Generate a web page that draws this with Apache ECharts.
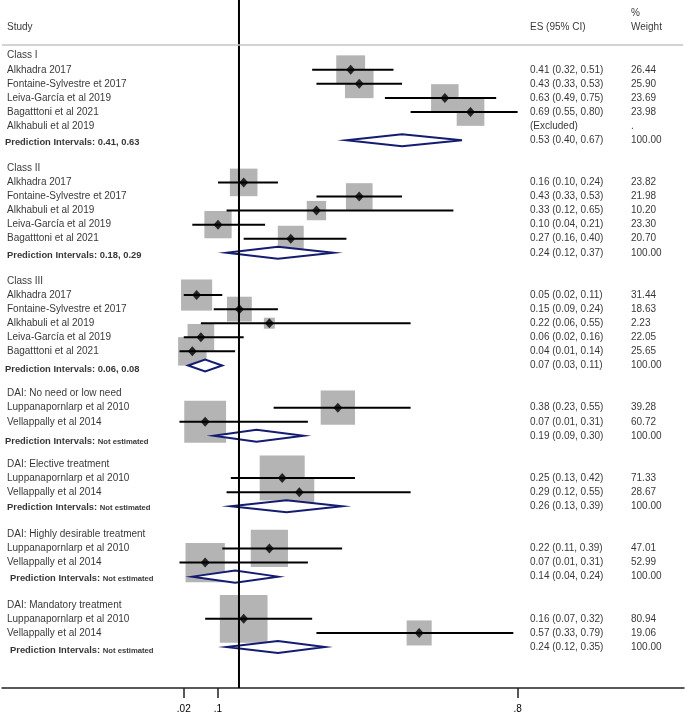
<!DOCTYPE html>
<html>
<head>
<meta charset="utf-8">
<script src="https://cdn.jsdelivr.net/npm/echarts@6/dist/echarts.min.js"></script>
<style>
  html, body { margin: 0; padding: 0; background: #fff; }
  #chart { width: 685px; height: 714px; }
</style>
</head>
<body>
<div id="chart"></div>
<script>
// ---------------- DATA ----------------
const groupNames = ['Class I', 'Class II', 'Class III', 'DAI: No need or low need',
  'DAI: Elective treatment', 'DAI: Highly desirable treatment', 'DAI: Mandatory treatment'];
const groupSizes = [5, 5, 5, 2, 2, 2, 2];
const studyNames = [
  'Alkhadra 2017', 'Fontaine-Sylvestre et 2017', 'Leiva-García et al 2019', 'Bagatttoni et al 2021', 'Alkhabuli et al 2019',
  'Alkhadra 2017', 'Fontaine-Sylvestre et 2017', 'Alkhabuli et al 2019', 'Leiva-García et al 2019', 'Bagatttoni et al 2021',
  'Alkhadra 2017', 'Fontaine-Sylvestre et 2017', 'Alkhabuli et al 2019', 'Leiva-García et al 2019', 'Bagatttoni et al 2021',
  'Luppanapornlarp et al 2010', 'Vellappally et al 2014',
  'Luppanapornlarp et al 2010', 'Vellappally et al 2014',
  'Luppanapornlarp et al 2010', 'Vellappally et al 2014',
  'Luppanapornlarp et al 2010', 'Vellappally et al 2014'
];
const esVals = [0.41, 0.43, 0.63, 0.69, null, 0.16, 0.43, 0.33, 0.10, 0.27, 0.05, 0.15, 0.22, 0.06, 0.04,
  0.38, 0.07, 0.25, 0.29, 0.22, 0.07, 0.16, 0.57];
const loVals = [0.32, 0.33, 0.49, 0.55, null, 0.10, 0.33, 0.12, 0.04, 0.16, 0.02, 0.09, 0.06, 0.02, 0.01,
  0.23, 0.01, 0.13, 0.12, 0.11, 0.01, 0.07, 0.33];
const hiVals = [0.51, 0.53, 0.75, 0.80, null, 0.24, 0.53, 0.65, 0.21, 0.40, 0.11, 0.24, 0.55, 0.16, 0.14,
  0.55, 0.31, 0.42, 0.55, 0.39, 0.31, 0.32, 0.79];
const weights = [26.44, 25.90, 23.69, 23.98, null, 23.82, 21.98, 10.20, 23.30, 20.70, 31.44, 18.63, 2.23, 22.05, 25.65,
  39.28, 60.72, 71.33, 28.67, 47.01, 52.99, 80.94, 19.06];
const pooledES = [0.53, 0.24, 0.07, 0.19, 0.26, 0.14, 0.24];
const pooledLo = [0.40, 0.12, 0.03, 0.09, 0.13, 0.04, 0.12];
const pooledHi = [0.67, 0.37, 0.11, 0.30, 0.39, 0.24, 0.35];
const pooledWeight = [100, 100, 100, 100, 100, 100, 100];
const predIntervals = ['0.41, 0.63', '0.18, 0.29', '0.06, 0.08', 'Not estimated', 'Not estimated', 'Not estimated', 'Not estimated'];
const tickValues = [0.02, 0.1, 0.8];
const tickLabels = ['.02', '.1', '.8'];
const refLineValue = 0.149;
const headerTexts = { study: 'Study', es: 'ES (95% CI)', pct: '%', weight: 'Weight' };

// ---------------- LAYOUT ----------------
const FONT = "'Liberation Sans', Arial, sans-serif";
const gridLeft = 2, gridRight = 1, gridTop = 0, gridBottom = 26;
const xMin = -0.4047, xMax = 1.1888;
const yMin = -3.956, yMax = 44.91;
const plotW = 685 - gridLeft - gridRight;
const xv = px => xMin + (px - gridLeft) / plotW * (xMax - xMin);
const colStudy = xv(7), colES = xv(530), colW = xv(631);
const predIndentPx = [5, 7, 5, 5, 7, 10, 10];
const predDy = [1, 1.5, 3, 5, 0.5, 1, 2];

// build rows
const groupRow = [], predRow = [], studyRow = [];
let r = 0;
groupSizes.forEach((n) => {
  groupRow.push(r++);
  for (let i = 0; i < n; i++) { studyRow.push(r++); }
  predRow.push(r++);
  r++;
});

const f2 = v => v.toFixed(2);
const boxData = [], pointData = [], ciData = [], nameData = [], esTextData = [], wTextData = [];
studyNames.forEach((name, i) => {
  const row = studyRow[i];
  nameData.push([colStudy, row, name]);
  if (esVals[i] != null) {
    boxData.push([esVals[i], row, weights[i]]);
    pointData.push([esVals[i], row]);
    ciData.push([loVals[i], hiVals[i], row]);
    esTextData.push([colES, row, f2(esVals[i]) + ' (' + f2(loVals[i]) + ', ' + f2(hiVals[i]) + ')']);
    wTextData.push([colW, row, f2(weights[i])]);
  } else {
    esTextData.push([colES, row, '(Excluded)']);
    wTextData.push([colW, row, '.']);
  }
});
const groupTextData = groupNames.map((g, i) => [colStudy, groupRow[i], g]);
const pooledData = pooledES.map((v, i) => [pooledLo[i], v, pooledHi[i], predRow[i]]);
pooledES.forEach((v, i) => {
  esTextData.push([colES, predRow[i], f2(v) + ' (' + f2(pooledLo[i]) + ', ' + f2(pooledHi[i]) + ')']);
  wTextData.push([colW, predRow[i], f2(pooledWeight[i])]);
});
const predTextData = predIntervals.map((p, i) => ({
  value: [xv(predIndentPx[i]), predRow[i], p],
  label: { offset: [0, predDy[i]] }
}));
const headerData = [
  [colStudy, -2, headerTexts.study],
  [colES, -2, headerTexts.es],
  [colW, -3, headerTexts.pct],
  [colW, -2, headerTexts.weight]
];

const textSeries = (data, extra) => Object.assign({
  type: 'scatter', data: data, symbolSize: 0, z: 10, silent: true,
  label: {
    show: true, position: 'right', distance: 0,
    formatter: p => p.value[2], color: '#000', fontSize: 10, fontFamily: FONT
  }
}, extra || {});

const chart = echarts.init(document.getElementById('chart'), null, { renderer: 'canvas' });
chart.setOption({
  animation: false,
  backgroundColor: '#fff',
  grid: { left: gridLeft, right: gridRight, top: gridTop, bottom: gridBottom, containLabel: false },
  xAxis: {
    type: 'value', min: xMin, max: xMax,
    splitLine: { show: false },
    axisLine: { show: true, onZero: false, lineStyle: { color: '#222', width: 1.5 } },
    axisTick: { show: true, customValues: tickValues, length: 10, lineStyle: { color: '#222', width: 1.5 } },
    axisLabel: {
      show: true, customValues: tickValues, margin: 16, color: '#000', fontSize: 10, fontFamily: FONT,
      formatter: v => { const k = tickValues.findIndex(t => Math.abs(t - v) < 1e-9); return k >= 0 ? tickLabels[k] : ''; }
    }
  },
  yAxis: { type: 'value', min: yMin, max: yMax, inverse: true, show: false },
  series: [
    {
      type: 'scatter', z: 1, silent: true, data: boxData, symbol: 'rect',
      symbolSize: v => 3.7 + 4.89 * Math.sqrt(v[2]),
      itemStyle: { color: '#b4b4b4', opacity: 1 }
    },
    {
      type: 'custom', z: 2, silent: true, data: pooledData,
      renderItem: (params, api) => {
        const y = api.coord([api.value(1), api.value(3)])[1];
        const xl = api.coord([api.value(0), api.value(3)])[0];
        const xc = api.coord([api.value(1), api.value(3)])[0];
        const xr = api.coord([api.value(2), api.value(3)])[0];
        const h = 6;
        return {
          type: 'polygon',
          shape: { points: [[xl, y], [xc, y - h], [xr, y], [xc, y + h]] },
          style: { fill: '#fff', stroke: '#141c72', lineWidth: 2 }
        };
      }
    },
    {
      type: 'line', z: 3, silent: true, symbol: 'none',
      data: [[refLineValue, yMin], [refLineValue, yMax]],
      lineStyle: { color: '#000', width: 2 }
    },
    {
      type: 'line', z: 3, silent: true, symbol: 'none',
      data: [[xMin, -0.76], [xMax - 0.002, -0.76]],
      lineStyle: { color: '#c4c4c4', width: 1.5 }
    },
    {
      type: 'custom', z: 4, silent: true, data: ciData,
      renderItem: (params, api) => {
        const p1 = api.coord([api.value(0), api.value(2)]);
        const p2 = api.coord([api.value(1), api.value(2)]);
        return {
          type: 'line',
          shape: { x1: p1[0], y1: p1[1], x2: p2[0], y2: p2[1] },
          style: { stroke: '#000', lineWidth: 2 }
        };
      }
    },
    {
      type: 'scatter', z: 5, silent: true, data: pointData, symbol: 'diamond', symbolSize: [9, 10],
      itemStyle: { color: '#000' }
    },
    textSeries(headerData),
    textSeries(groupTextData),
    textSeries(nameData),
    textSeries(esTextData),
    textSeries(wTextData),
    textSeries(predTextData, {
      label: {
        show: true, position: 'right', distance: 0,
        formatter: p => p.value[2] === 'Not estimated'
          ? '{b|Prediction Intervals: }{s|Not estimated}'
          : '{b|Prediction Intervals: ' + p.value[2] + '}',
        rich: {
          b: { fontSize: 9.4, fontWeight: 'bold', fontFamily: FONT, color: '#000', verticalAlign: 'bottom', lineHeight: 11 },
          s: { fontSize: 7.7, fontWeight: 'bold', fontFamily: FONT, color: '#000', verticalAlign: 'bottom', lineHeight: 9 }
        }
      }
    })
  ]
});
</script>
</body>
</html>
